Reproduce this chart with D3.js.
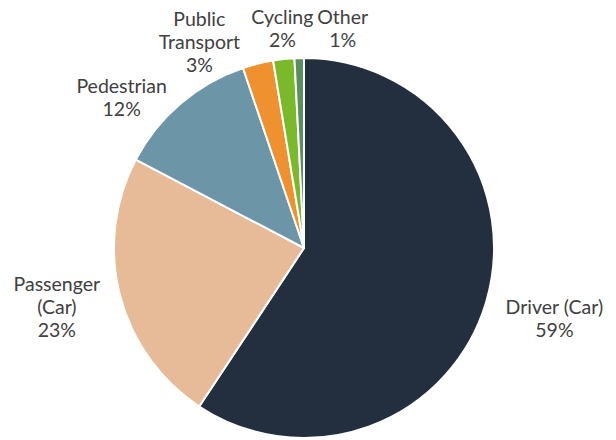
<!DOCTYPE html>
<html>
<head>
<meta charset="utf-8">
<script src="https://cdn.jsdelivr.net/npm/d3@7"></script>
<style>
  body { margin: 0; background: #fff; }
  text { font-family: Lato, "Open Sans", sans-serif; fill: #404040; }
</style>
</head>
<body>
<div id="chart"></div>
<script>
// travel mode share, clockwise from 12 o'clock
const categories = ["Driver (Car)", "Passenger (Car)", "Pedestrian", "Public Transport", "Cycling", "Other"];
const shares = [59.3, 23.4, 12.1, 2.6, 1.8, 0.8];
const labelLines = [["Driver (Car)"], ["Passenger", "(Car)"], ["Pedestrian"], ["Public", "Transport"], ["Cycling"], ["Other"]];
const colors = ["#232f3e", "#e8bb98", "#6d95a8", "#f0912f", "#7ab929", "#5b8e5e"];

// label nudges from the outer centroid (layout only)
const nudges = [[11, -1], [-5, -3], [-20, 40], [-44, 37], [5, 29], [45, 31]];

const width = 616, height = 440;
const cx = 304, cy = 248, radius = 190, labelRadius = 250;
const lineHeight = 23;

const svg = d3.select("#chart").append("svg")
    .attr("width", width)
    .attr("height", height)
  .append("g")
    .attr("transform", `translate(${cx}, ${cy})`);

const data = categories.map((c, i) => ({ name: c, value: shares[i], lines: labelLines[i], color: colors[i], nudge: nudges[i] }));

const pie = d3.pie().sort(null).value(d => d.value);
const arcs = pie(data);
const arc = d3.arc().innerRadius(0).outerRadius(radius);
const labelArc = d3.arc().innerRadius(labelRadius).outerRadius(labelRadius);

svg.selectAll("path.slice")
  .data(arcs)
  .enter().append("path")
    .attr("class", "slice")
    .attr("d", arc)
    .attr("fill", d => d.data.color)
    .attr("stroke", "#fff")
    .attr("stroke-width", 2)
    .attr("stroke-linejoin", "round");

const total = d3.sum(shares);
const labels = svg.selectAll("text.label")
  .data(arcs)
  .enter().append("text")
    .attr("class", "label")
    .attr("text-anchor", "middle")
    .style("font-size", "19.5px")
    .attr("transform", d => {
      const [x, y] = labelArc.centroid(d);
      return `translate(${x + d.data.nudge[0]}, ${y + d.data.nudge[1]})`;
    });

labels.each(function(d) {
  const lines = [...d.data.lines, Math.round(d.data.value / total * 100) + "%"];
  const t = d3.select(this);
  const top = -(lines.length - 1) * lineHeight / 2;
  lines.forEach((l, i) => {
    t.append("tspan")
      .attr("x", 0)
      .attr("y", top + i * lineHeight)
      .attr("dy", "0.35em")
      .text(l);
  });
});
</script>
</body>
</html>
